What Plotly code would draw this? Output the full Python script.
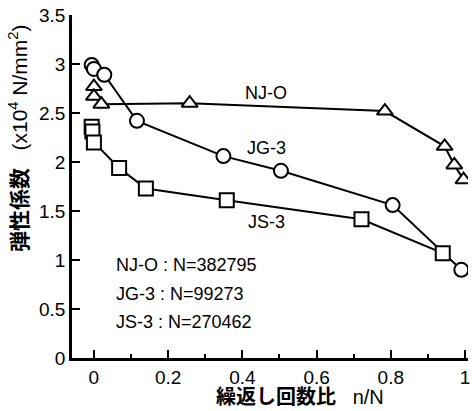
import plotly.graph_objects as go

# NJ-O (triangles)
nj_x = [0.0, 0.0, 0.02, 0.258, 0.784, 0.945, 0.971, 0.996]
nj_y = [2.77, 2.67, 2.59, 2.60, 2.52, 2.16, 1.97, 1.82]
# JG-3 (circles)
jg_x = [-0.006, 0.0, 0.028, 0.116, 0.349, 0.504, 0.805, 0.99]
jg_y = [2.99, 2.95, 2.89, 2.42, 2.06, 1.91, 1.56, 0.90]
# JS-3 (squares)
js_x = [-0.006, -0.004, 0.0, 0.068, 0.14, 0.358, 0.721, 0.94]
js_y = [2.36, 2.31, 2.20, 1.94, 1.73, 1.61, 1.415, 1.07]

series_labels = ["NJ-O", "JG-3", "JS-3"]
n_labels = ["NJ-O : N=382795", "JG-3 : N=99273", "JS-3 : N=270462"]
x_ticks = [0, 0.2, 0.4, 0.6, 0.8, 1]
y_ticks = [0, 0.5, 1, 1.5, 2, 2.5, 3, 3.5]

FONT = "Arial, Liberation Sans, Noto Sans CJK JP, sans-serif"

fig = go.Figure()
for xs, ys, sym in [(nj_x, nj_y, "triangle-up"),
                    (jg_x, jg_y, "circle"),
                    (js_x, js_y, "square")]:
    fig.add_trace(go.Scatter(
        x=xs, y=ys, mode="lines+markers",
        line=dict(color="black", width=2),
        marker=dict(symbol=sym, size=14, color="white",
                    line=dict(color="black", width=2)),
        showlegend=False))

# series labels
for txt, (x, y) in zip(series_labels, [(0.465, 2.70), (0.465, 2.14), (0.465, 1.39)]):
    fig.add_annotation(x=x, y=y, text=txt, showarrow=False, xanchor="center",
                       font=dict(family=FONT, size=18, color="black"))

for txt, y in zip(n_labels, [0.95, 0.655, 0.37]):
    fig.add_annotation(x=0.055, y=y, text=txt, showarrow=False, xanchor="left",
                       font=dict(family=FONT, size=18, color="black"))

fig.update_xaxes(range=[-0.059, 1.008], tickvals=x_ticks, ticktext=["0", "0.2", "0.4", "0.6", "0.8", "1"],
                 ticks="inside", ticklen=8, tickwidth=2, tickcolor="black",
                 minor=dict(tickvals=[0.1, 0.3, 0.5, 0.7, 0.9], ticks="inside", ticklen=4, tickwidth=2, tickcolor="black"),
                 showline=True, linecolor="black", linewidth=2.5, showgrid=False, zeroline=False,
                 ticklabeloverflow="allow",
                 tickfont=dict(family=FONT, size=19, color="black"))
fig.update_yaxes(range=[0, 3.5], tickvals=y_ticks, ticktext=["0", "0.5", "1", "1.5", "2", "2.5", "3", "3.5"],
                 ticks="inside", ticklen=8, tickwidth=2, tickcolor="black",
                 showline=True, linecolor="black", linewidth=2.5, showgrid=False, zeroline=False,
                 tickfont=dict(family=FONT, size=19, color="black"))

fig.add_annotation(xref="paper", yref="paper", x=-0.135, y=0.64, textangle=-90,
                   xanchor="center", yanchor="middle",
                   text="<b>弾性係数</b>   (x10<sup>4</sup> N/mm<sup>2</sup>)", showarrow=False,
                   font=dict(family=FONT, size=21, color="black"))
fig.add_annotation(xref="paper", yref="paper", x=0.575, y=-0.075, yanchor="top",
                   text="<b>繰返し回数比</b>   n/N", showarrow=False,
                   font=dict(family=FONT, size=20, color="black"))

fig.update_layout(width=472, height=411, margin=dict(l=72, r=2, t=15, b=53),
                  plot_bgcolor="white", paper_bgcolor="white")
fig.write_html("out.html", config={"displayModeBar": False},
               post_script="document.body.style.margin='0';document.body.style.overflow='hidden';")
